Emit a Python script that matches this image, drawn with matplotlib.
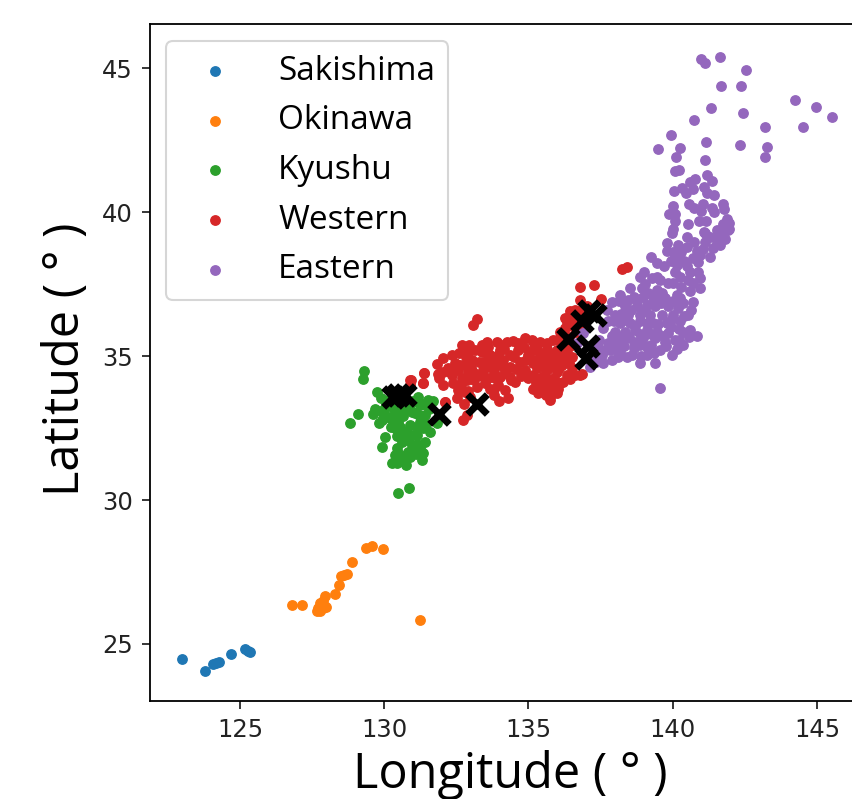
import matplotlib
matplotlib.use("Agg")
import matplotlib.pyplot as plt

plt.rcParams['font.family'] = ['Open Sans', 'DejaVu Sans']

sakishima_lon = [122.99, 123.77, 124.08, 124.17, 124.26, 124.70, 125.16, 125.26, 125.33]
sakishima_lat = [24.47, 24.06, 24.32, 24.34, 24.37, 24.65, 24.83, 24.77, 24.72]

okinawa_lon = [126.79, 127.14, 127.66, 127.78, 127.72, 127.89, 127.97, 127.78, 127.89, 127.95,
               128.31, 128.43, 128.50, 128.71, 128.62, 128.87, 129.37, 129.59, 129.94, 131.23]
okinawa_lat = [26.34, 26.37, 26.15, 26.15, 26.24, 26.24, 26.27, 26.41, 26.51, 26.68,
               26.74, 27.04, 27.37, 27.42, 27.40, 27.83, 28.35, 28.39, 28.30, 25.83]

kyushu_lon = [129.31, 129.28, 129.74, 129.88, 129.10, 128.81, 129.68, 129.62, 130.03, 129.83,
              130.20, 129.91, 130.49, 130.60, 130.32, 130.89, 131.18, 131.53, 131.70, 131.07,
              131.41, 131.24, 131.82, 131.59, 130.89, 130.80, 131.15, 130.43, 130.03, 129.91,
              130.84, 131.41, 130.43, 131.24, 130.37, 130.84, 131.35, 130.89, 131.30, 130.26,
              130.43, 130.74, 130.87, 130.49, 130.66, 130.37, 131.12, 131.01, 130.55, 130.78,
              130.14, 130.60,
              130.20, 130.45, 130.75, 130.95, 131.25, 130.00, 130.25, 130.55, 130.70, 130.95,
              131.35, 130.55, 130.95, 131.15, 130.50, 130.60, 131.10, 130.05, 129.90, 131.00,
              131.35, 130.30, 131.20, 130.50, 131.55, 131.45]
kyushu_lat = [34.48, 34.20, 33.74, 33.53, 32.98, 32.69, 33.15, 32.99, 33.18, 32.66,
              32.84, 32.78, 32.72, 33.13, 33.24, 33.30, 33.59, 33.47, 33.45, 33.01,
              32.95, 32.72, 32.66, 32.37, 32.61, 32.32, 32.26, 32.22, 32.18, 31.83,
              32.09, 32.03, 31.80, 31.80, 31.56, 31.68, 31.62, 31.48, 31.39, 31.27,
              31.27, 31.22, 30.41, 30.23, 32.90, 32.49, 32.55, 31.85, 33.47, 33.47,
              33.47, 32.03,
              33.30, 33.25, 33.15, 33.05, 33.30, 32.95, 32.55, 32.55, 32.35, 32.25,
              32.50, 32.25, 31.90, 31.95, 31.60, 31.45, 31.60, 33.35, 33.10, 33.45,
              33.35, 32.95, 32.95, 33.00, 33.15, 32.65]

western_lon = [133.23, 133.09, 132.69, 132.95, 132.92, 132.34, 132.05, 131.84, 132.61, 131.38,
               131.88, 131.91, 131.34, 130.92, 130.90, 132.05, 132.34, 132.40, 132.57, 132.51,
               132.75, 132.11, 132.86, 132.72, 132.92, 132.86, 133.21, 133.38, 133.55, 133.90,
               134.25, 134.48, 134.88, 135.11, 135.40, 133.38, 133.27, 133.67, 134.02, 134.36,
               134.65, 134.71, 133.55, 133.96, 134.36, 133.61, 134.02, 133.27, 134.54, 133.79,
               134.19, 134.28, 133.99, 133.79, 135.17, 135.06, 135.40, 135.69, 135.86, 136.10,
               136.27, 135.98, 135.75, 136.21, 136.50, 134.88, 135.29, 135.63, 135.98, 136.50,
               136.85, 136.62, 135.00, 135.40, 135.75, 136.21, 135.17, 135.34, 135.69, 136.04,
               135.75, 135.98, 136.33, 136.27, 136.62, 136.56, 136.04, 132.28, 132.80, 132.98,
               133.09, 133.44, 133.79, 134.13, 133.79, 134.36, 135.23, 135.58, 135.63, 135.98,
               135.52, 136.33, 138.23, 138.43, 136.79, 137.26, 137.53, 136.79, 137.02, 136.56,
               136.27, 136.38, 136.09, 136.67, 136.90, 136.79, 135.90, 135.75, 130.89, 131.39,
               131.33, 132.11,
               133.05, 133.45, 133.60, 133.95, 134.15, 134.50, 134.85, 135.00, 135.30, 135.50,
               135.80, 136.05, 136.35, 136.40, 136.15, 135.85, 135.50, 135.15, 134.90, 134.55,
               134.15, 133.70, 133.40, 133.85, 134.20, 134.40, 133.50, 133.95, 133.65, 133.10,
               132.70, 132.55, 132.80, 133.00, 132.45, 132.20, 132.05, 132.65, 132.90, 134.75,
               135.15, 135.55, 135.90, 136.05, 136.45, 135.25, 135.50, 135.85, 136.10, 135.60,
               136.55, 136.40, 136.65, 136.50, 136.80, 136.45, 136.75, 136.95, 135.20, 135.65,
               134.65, 134.10, 133.60, 133.15, 132.60, 132.85]
western_lat = [36.28, 36.07, 35.38, 35.40, 35.15, 35.03, 34.92, 34.74, 34.68, 34.42,
               34.39, 34.22, 34.05, 34.16, 33.99, 33.99, 34.34, 34.05, 33.82, 33.53,
               33.35, 33.41, 32.95, 32.77, 34.45, 34.16, 33.93, 35.38, 35.49, 35.49,
               35.49, 35.53, 35.64, 35.55, 35.49, 35.15, 34.80, 35.03, 35.20, 35.03,
               35.20, 34.80, 34.63, 34.68, 34.63, 34.22, 34.28, 34.34, 34.10, 33.87,
               33.82, 33.53, 33.43, 33.64, 35.20, 34.91, 34.97, 35.15, 35.55, 35.67,
               35.38, 35.20, 34.80, 34.92, 34.97, 34.51, 34.57, 34.51, 34.45, 34.57,
               34.39, 34.34, 34.22, 34.22, 34.16, 34.10, 33.87, 33.70, 33.87, 33.87,
               33.49, 33.70, 36.19, 35.96, 36.59, 36.25, 35.55, 34.45, 33.76, 33.58,
               34.45, 34.51, 34.45, 34.86, 34.86, 34.28, 34.86, 34.80, 35.26, 34.92,
               33.99, 34.34, 38.03, 38.08, 37.38, 37.45, 36.97, 36.95, 36.72, 36.49,
               36.31, 36.09, 35.85, 36.26, 36.43, 34.34, 33.95, 33.59, 34.15, 34.40,
               34.05, 33.42,
               34.85, 34.80, 34.88, 35.05, 35.25, 34.95, 35.30, 35.05, 35.25, 35.05,
               35.00, 35.05, 35.20, 34.75, 34.70, 34.65, 34.70, 34.75, 34.85, 34.55,
               34.60, 34.65, 34.30, 34.25, 34.40, 34.15, 34.05, 34.00, 33.85, 34.15,
               34.25, 34.50, 34.70, 34.60, 34.75, 34.60, 34.45, 34.00, 33.80, 34.30,
               34.35, 34.35, 34.25, 34.60, 34.20, 34.05, 33.85, 34.05, 34.05, 33.65,
               35.40, 35.65, 35.85, 36.05, 36.00, 36.55, 36.55, 36.25, 35.45, 35.45,
               35.45, 35.40, 35.30, 35.20, 35.10, 34.95]

eastern_lon = [140.99, 141.12, 141.65, 142.55, 141.67, 142.36, 144.25, 144.97, 145.53, 144.50,
               143.20, 141.32, 142.44, 140.75, 139.95, 139.49, 140.26, 140.11, 141.14, 142.33,
               143.28, 143.21, 141.12, 140.07, 140.22, 141.18, 141.36, 140.78, 140.60, 140.06,
               140.31, 140.45, 140.70, 141.10, 141.18, 141.44, 140.56, 141.04, 141.74, 140.75,
               140.98, 141.37, 141.43, 141.77, 140.01, 139.88, 140.08, 140.07, 140.53, 140.92,
               141.14, 141.87, 141.75, 141.94, 140.00, 141.08, 141.52, 141.94,
               139.96, 139.79, 139.79, 140.19, 140.51, 141.12, 141.12, 141.52, 141.70, 141.93,
               140.48, 140.83, 141.29, 139.24, 139.44, 139.70, 140.19, 140.14, 140.08, 140.48,
               140.89, 140.60, 140.89, 140.54, 140.95, 140.95, 140.60, 139.00, 138.87, 139.27,
               139.56, 140.02, 138.52, 138.92, 138.17, 137.88, 138.64, 138.98, 139.39, 139.73,
               140.14, 140.37, 140.71, 138.35, 138.75, 139.10, 139.39, 139.85, 140.19, 140.54,
               138.00, 137.71, 138.46, 138.87, 139.21, 139.62, 140.02, 138.17, 137.77, 138.52,
               138.87, 139.33, 139.79, 140.25, 140.60, 140.83, 138.00, 137.60, 138.35, 138.69,
               139.10, 139.44, 139.85, 140.37, 138.35, 137.77, 138.06, 138.64, 138.98, 139.39,
               139.73, 140.08, 140.37, 138.17, 137.83, 138.64, 139.10, 139.56, 139.96, 138.40,
               138.87, 139.39, 139.10, 137.60, 137.88, 137.31, 137.42, 137.13, 139.56, 136.67,
               136.90, 137.13, 139.44, 139.62,
               138.15, 138.45, 138.75, 139.15, 139.05, 138.55, 138.20, 137.95, 138.30, 138.70,
               139.10, 139.50, 139.95, 140.40, 137.90, 138.20, 138.50, 138.85, 139.25, 139.65,
               140.20, 140.55, 137.65, 138.00, 138.30, 138.85, 139.25, 139.75, 140.15, 138.10,
               138.60, 138.90, 139.35, 137.45, 137.35, 137.55, 139.30, 139.60, 140.00, 140.25,
               139.05, 139.45, 139.85, 140.25, 140.40, 140.70, 140.30, 140.95, 141.05, 141.40,
               141.65, 141.80, 141.55, 141.30, 140.75, 140.00, 139.95, 140.30, 140.70, 140.65,
               139.95, 140.20]
eastern_lat = [45.30, 45.19, 45.39, 44.93, 44.36, 44.36, 43.89, 43.66, 43.31, 42.95,
               42.97, 43.63, 43.45, 43.19, 42.69, 42.18, 42.23, 41.92, 42.43, 42.34,
               42.25, 41.92, 41.82, 41.42, 41.45, 41.29, 41.08, 41.15, 41.03, 40.74,
               40.82, 40.65, 40.81, 40.87, 40.65, 40.58, 40.28, 40.29, 40.29, 40.13,
               40.04, 40.15, 40.01, 40.10, 40.21, 39.92, 39.94, 39.70, 39.58, 39.70,
               39.69, 39.75, 39.58, 39.61, 39.40, 39.32, 39.38, 39.40,
               39.26, 38.92, 38.63, 38.86, 39.12, 39.26, 38.97, 38.92, 39.26, 39.38,
               38.80, 38.63, 38.45, 38.45, 38.22, 38.11, 38.45, 38.16, 37.93, 38.11,
               38.28, 37.93, 37.93, 37.64, 37.70, 37.35, 37.27, 37.93, 37.76, 37.70,
               37.64, 37.53, 37.35, 37.35, 37.12, 36.89, 37.06, 37.06, 37.01, 37.01,
               37.12, 36.83, 36.89, 36.72, 36.72, 36.77, 36.72, 36.72, 36.66, 36.43,
               36.43, 36.60, 36.43, 36.43, 36.43, 36.43, 36.43, 36.14, 36.20, 36.14,
               36.20, 36.14, 36.14, 36.20, 35.91, 35.70, 35.85, 35.96, 35.85, 35.91,
               35.91, 35.85, 35.79, 35.85, 35.62, 35.44, 35.50, 35.50, 35.62, 35.62,
               35.50, 35.56, 35.39, 35.15, 35.21, 35.27, 35.33, 35.21, 35.04, 34.98,
               34.75, 34.77, 35.04, 34.75, 34.86, 35.04, 35.33, 34.63, 33.88, 35.44,
               35.79, 34.98, 37.30, 37.18,
               36.90, 36.95, 36.90, 37.20, 36.55, 36.60, 36.45, 36.20, 36.25, 36.05,
               36.15, 36.10, 36.25, 36.40, 35.70, 35.65, 35.65, 35.75, 35.75, 35.70,
               35.55, 35.65, 35.20, 35.25, 35.35, 35.40, 35.40, 35.35, 35.25, 34.95,
               35.05, 35.00, 35.10, 35.55, 34.80, 35.05, 36.90, 36.85, 36.90, 37.00,
               37.50, 37.75, 37.55, 37.75, 38.30, 38.40, 38.60, 38.50, 38.70, 38.75,
               38.85, 39.05, 39.10, 39.15, 38.95, 38.60, 38.30, 37.40, 37.55, 36.60,
               36.00, 35.95]

site_lon = [137.11, 137.31, 136.84, 136.38, 137.08, 136.99, 133.23, 131.90, 130.32, 130.49, 130.72]
site_lat = [36.57, 36.43, 36.20, 35.58, 35.35, 34.92, 33.35, 32.97, 33.59, 33.65, 33.65]

regions = ["Sakishima", "Okinawa", "Kyushu", "Western", "Eastern"]
lons = [sakishima_lon, okinawa_lon, kyushu_lon, western_lon, eastern_lon]
lats = [sakishima_lat, okinawa_lat, kyushu_lat, western_lat, eastern_lat]

fig = plt.figure(figsize=(8.52, 7.99), dpi=100)
ax = fig.add_axes([150 / 852, 98 / 799, 714 / 852, 677 / 799])

for name, lon, lat in zip(regions, lons, lats):
    ax.scatter(lon, lat, s=46, label=name)
ax.scatter(site_lon, site_lat, s=200, marker="x", color="k", linewidths=5, zorder=5)

ax.set_xlim(121.88, 146.63)
ax.set_ylim(23.02, 46.53)
ax.set_xticks([125, 130, 135, 140, 145])
ax.set_yticks([25, 30, 35, 40, 45])
ax.tick_params(axis="both", length=6, width=1.1, pad=6.5)
for lab in ax.get_xticklabels() + ax.get_yticklabels():
    lab.set_family("DejaVu Sans")
    lab.set_fontsize(17.5)
    lab.set_color("#222222")
for s in ax.spines.values():
    s.set_linewidth(1.3)

ax.set_xlabel("Longitude ( ° )", fontsize=35)
ax.set_ylabel("Latitude ( ° )", fontsize=35)
ax.xaxis.set_label_coords(0.505, -0.072, transform=ax.transAxes)
ax.yaxis.set_label_coords(-0.083, 0.505, transform=ax.transAxes)

leg = ax.legend(loc="upper left", bbox_to_anchor=(0.0225, 0.9745), borderaxespad=0, fontsize=24,
                handletextpad=0.8, labelspacing=0.5, borderpad=0.4, handlelength=2.16)
leg.get_frame().set_linewidth(1.5)

fig.savefig("out.png", dpi=100)
